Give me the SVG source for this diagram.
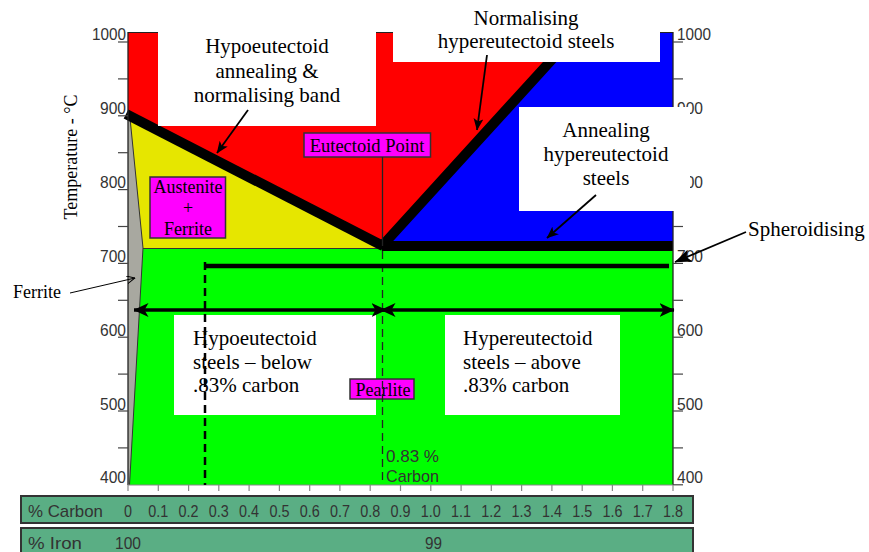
<svg xmlns="http://www.w3.org/2000/svg" width="869" height="552" viewBox="0 0 869 552">
<style>
.ax{font-family:"Liberation Sans",Arial,sans-serif;font-size:17px;fill:#333}
.serif{font-family:"Liberation Serif","Times New Roman",serif;fill:#000}
.big{font-size:21px}
.lab{font-size:18px}
.tick{stroke:#444;stroke-width:1.2}
.btick{stroke:#888;stroke-width:1.2}
.bar{fill:#5aae84;stroke:#333;stroke-width:2}
.mag{fill:#ff00ff;stroke:#333;stroke-width:1.5}
.ptr{stroke:#000;stroke-width:1.8;fill:none}
.dbl{stroke:#000;stroke-width:3.5;fill:none}
.wb{fill:#fff}
</style>
<defs>
<marker id="ah" viewBox="0 0 12 10" refX="11.5" refY="5" markerWidth="12" markerHeight="10" markerUnits="userSpaceOnUse" orient="auto"><path d="M0,0 L12,5 L0,10 L3,5 z" fill="#000"/></marker>
<marker id="ahBig" viewBox="0 0 17 13" refX="16.5" refY="6.5" markerWidth="17" markerHeight="13" markerUnits="userSpaceOnUse" orient="auto"><path d="M0,0 L17,6.5 L0,13 L4,6.5 z" fill="#000"/></marker>
<marker id="ahD" viewBox="0 0 15 14" refX="14.5" refY="7" markerWidth="15" markerHeight="14" markerUnits="userSpaceOnUse" orient="auto-start-reverse"><path d="M0,0 L15,7 L0,14 L4,7 z" fill="#000"/></marker>
<marker id="ahO" viewBox="0 0 9 8" refX="8.5" refY="4" markerWidth="9" markerHeight="8" markerUnits="userSpaceOnUse" orient="auto"><path d="M0,0 L8.5,4 L0,8" fill="none" stroke="#000" stroke-width="1"/></marker>
</defs>
<rect width="869" height="552" fill="#fff"/>

<g id="phase-regions">
<rect x="128" y="32" width="545" height="217" fill="#ff0000"/>
<polygon points="382,246 577,32 673,32 673,246" fill="#0000ff"/>
<polygon points="128,114 383,246 383,249 128,249" fill="#e6e600"/>
<rect x="128" y="248" width="545" height="237" fill="#00ff00"/>
<line x1="141" y1="248.5" x2="383" y2="248.5" stroke="#333" stroke-width="1"/>
<polygon points="128,118 130,118 143,248 129.5,485 128,485" fill="#a8a8a0"/>
<polyline points="130,118 143,248 129.5,485" fill="none" stroke="#333" stroke-width="1"/>
<line x1="128" y1="32.5" x2="673" y2="32.5" stroke="#222" stroke-width="1"/>
</g>

<g id="transformation-lines">
<line x1="126" y1="114" x2="383" y2="246" stroke="#000" stroke-width="10"/>
<polyline points="577,32 382,246 673,246" fill="none" stroke="#000" stroke-width="10" stroke-linejoin="bevel"/>
</g>

<g id="axes">
<line x1="128" y1="32" x2="128" y2="485" stroke="#222" stroke-width="1.3"/>
<line x1="673" y1="32" x2="673" y2="485" stroke="#222" stroke-width="1.3"/>
<line x1="128" y1="485" x2="673" y2="485" stroke="#888" stroke-width="1.2"/>
<g class="tick">
<line x1="118" y1="42" x2="128" y2="42"/><line x1="118" y1="78.9" x2="128" y2="78.9"/><line x1="118" y1="115.8" x2="128" y2="115.8"/><line x1="118" y1="152.7" x2="128" y2="152.7"/><line x1="118" y1="189.6" x2="128" y2="189.6"/><line x1="118" y1="226.5" x2="128" y2="226.5"/><line x1="118" y1="263.4" x2="128" y2="263.4"/><line x1="118" y1="300.3" x2="128" y2="300.3"/><line x1="118" y1="337.2" x2="128" y2="337.2"/><line x1="118" y1="374.1" x2="128" y2="374.1"/><line x1="118" y1="411" x2="128" y2="411"/><line x1="118" y1="447.9" x2="128" y2="447.9"/>
<line x1="673" y1="42" x2="683" y2="42"/><line x1="673" y1="78.9" x2="683" y2="78.9"/><line x1="673" y1="115.8" x2="683" y2="115.8"/><line x1="673" y1="152.7" x2="683" y2="152.7"/><line x1="673" y1="189.6" x2="683" y2="189.6"/><line x1="673" y1="226.5" x2="683" y2="226.5"/><line x1="673" y1="263.4" x2="683" y2="263.4"/><line x1="673" y1="300.3" x2="683" y2="300.3"/><line x1="673" y1="337.2" x2="683" y2="337.2"/><line x1="673" y1="374.1" x2="683" y2="374.1"/><line x1="673" y1="411" x2="683" y2="411"/><line x1="673" y1="447.9" x2="683" y2="447.9"/><line x1="673" y1="484.8" x2="683" y2="484.8"/>
</g>
<g class="btick">
<line x1="128" y1="485" x2="128" y2="491"/><line x1="158.3" y1="485" x2="158.3" y2="491"/><line x1="188.6" y1="485" x2="188.6" y2="491"/><line x1="218.8" y1="485" x2="218.8" y2="491"/><line x1="249.1" y1="485" x2="249.1" y2="491"/><line x1="279.4" y1="485" x2="279.4" y2="491"/><line x1="309.7" y1="485" x2="309.7" y2="491"/><line x1="339.9" y1="485" x2="339.9" y2="491"/><line x1="370.2" y1="485" x2="370.2" y2="491"/><line x1="400.5" y1="485" x2="400.5" y2="491"/><line x1="430.8" y1="485" x2="430.8" y2="491"/><line x1="461.1" y1="485" x2="461.1" y2="491"/><line x1="491.3" y1="485" x2="491.3" y2="491"/><line x1="521.6" y1="485" x2="521.6" y2="491"/><line x1="551.9" y1="485" x2="551.9" y2="491"/><line x1="582.2" y1="485" x2="582.2" y2="491"/><line x1="612.4" y1="485" x2="612.4" y2="491"/><line x1="642.7" y1="485" x2="642.7" y2="491"/><line x1="673" y1="485" x2="673" y2="491"/>
</g>
<g class="ax" lengthAdjust="spacingAndGlyphs">
<text x="92" y="40" textLength="34" lengthAdjust="spacingAndGlyphs">1000</text><text x="100" y="114" textLength="26" lengthAdjust="spacingAndGlyphs">900</text><text x="100" y="188" textLength="26" lengthAdjust="spacingAndGlyphs">800</text><text x="100" y="262" textLength="26" lengthAdjust="spacingAndGlyphs">700</text><text x="100" y="336" textLength="26" lengthAdjust="spacingAndGlyphs">600</text><text x="100" y="410" textLength="26" lengthAdjust="spacingAndGlyphs">500</text><text x="100" y="483" textLength="26" lengthAdjust="spacingAndGlyphs">400</text>
<text x="677" y="40" textLength="34" lengthAdjust="spacingAndGlyphs">1000</text><text x="677" y="114" textLength="26" lengthAdjust="spacingAndGlyphs">900</text><text x="677" y="188" textLength="26" lengthAdjust="spacingAndGlyphs">800</text><text x="677" y="262" textLength="26" lengthAdjust="spacingAndGlyphs">700</text><text x="677" y="336" textLength="26" lengthAdjust="spacingAndGlyphs">600</text><text x="677" y="410" textLength="26" lengthAdjust="spacingAndGlyphs">500</text><text x="677" y="483" textLength="26" lengthAdjust="spacingAndGlyphs">400</text>
</g>
<text class="serif lab" transform="translate(77,157) rotate(-90)" text-anchor="middle">Temperature - °C</text>
</g>

<g id="box-hypo-annealing">
<rect class="wb" x="158" y="20" width="218" height="106"/>
<text class="serif big" x="267" y="53" text-anchor="middle">Hypoeutectoid</text>
<text class="serif big" x="267" y="78" text-anchor="middle">annealing &amp;</text>
<text class="serif big" x="267" y="102" text-anchor="middle">normalising band</text>
</g>
<g id="box-normalising-hyper">
<rect class="wb" x="393" y="0" width="267" height="62"/>
<text class="serif big" x="526" y="25" text-anchor="middle">Normalising</text>
<text class="serif big" x="526" y="48" text-anchor="middle">hypereutectoid steels</text>
</g>
<g id="box-annealing-hyper">
<rect class="wb" x="519" y="107" width="171" height="104"/>
<text class="serif big" x="606" y="137" text-anchor="middle">Annealing</text>
<text class="serif big" x="606" y="161" text-anchor="middle">hypereutectoid</text>
<text class="serif big" x="606" y="185" text-anchor="middle">steels</text>
</g>
<g id="box-hypo-steels">
<rect class="wb" x="174" y="315" width="202" height="100"/>
<text class="serif big" x="193" y="345">Hypoeutectoid</text>
<text class="serif big" x="193" y="368.5">steels – below</text>
<text class="serif big" x="193" y="392">.83% carbon</text>
</g>
<g id="box-hyper-steels">
<rect class="wb" x="445" y="315" width="175" height="100"/>
<text class="serif big" x="463" y="345">Hypereutectoid</text>
<text class="serif big" x="463" y="368.5">steels – above</text>
<text class="serif big" x="463" y="392">.83% carbon</text>
</g>
<g id="label-austenite-ferrite">
<rect class="mag" x="150" y="177" width="75.5" height="61"/>
<text class="serif" font-size="18" x="188" y="193" text-anchor="middle">Austenite</text>
<text class="serif" font-size="18" x="188" y="214" text-anchor="middle">+</text>
<text class="serif" font-size="18" x="188" y="235" text-anchor="middle">Ferrite</text>
</g>
<g id="label-eutectoid-point">
<rect class="mag" x="304" y="133" width="126.5" height="24"/>
<text class="serif" font-size="18.5" x="367" y="152" text-anchor="middle">Eutectoid Point</text>
</g>
<g id="label-pearlite">
<rect class="mag" x="350" y="379" width="64" height="20"/>
<text class="serif" font-size="18" x="383" y="395.5" text-anchor="middle">Pearlite</text>
</g>
<g id="label-ferrite">
<text class="serif lab" x="13" y="298">Ferrite</text>
</g>
<g id="label-spheroidising">
<text class="serif big" x="748" y="236">Spheroidising</text>
</g>
<g id="label-083">
<text class="ax" font-size="18" x="386" y="462" textLength="53" lengthAdjust="spacingAndGlyphs">0.83 %</text>
<text class="ax" font-size="18" x="386" y="482" textLength="53" lengthAdjust="spacingAndGlyphs">Carbon</text>
</g>

<g id="connectors">
<line x1="382.5" y1="157" x2="382.5" y2="246" stroke="#222" stroke-width="1.3"/>
<line x1="382.5" y1="251" x2="382.5" y2="485" stroke="#222" stroke-width="1.3" stroke-dasharray="8,5"/>
<line x1="205" y1="262" x2="205" y2="485" stroke="#000" stroke-width="2.5" stroke-dasharray="8,5"/>
<line x1="204" y1="266" x2="669" y2="266" stroke="#000" stroke-width="4.5"/>
<line class="dbl" x1="134" y1="310" x2="386" y2="310" marker-start="url(#ahD)" marker-end="url(#ahD)"/>
<line class="dbl" x1="381" y1="310" x2="674" y2="310" marker-start="url(#ahD)" marker-end="url(#ahD)"/>
<line class="ptr" x1="248" y1="110" x2="217" y2="153" marker-end="url(#ah)"/>
<line class="ptr" x1="487" y1="55" x2="477" y2="130" marker-end="url(#ah)"/>
<line class="ptr" x1="596" y1="195" x2="547" y2="238" marker-end="url(#ah)"/>
<line class="ptr" x1="746" y1="232" x2="675" y2="262" stroke-width="2" marker-end="url(#ahBig)"/>
<line x1="70" y1="293" x2="135" y2="278" stroke="#000" stroke-width="1" marker-end="url(#ahO)"/>
</g>

<g id="scale-bars">
<rect class="bar" x="21" y="496" width="672" height="27"/>
<rect class="bar" x="21" y="528" width="672" height="30"/>
<g class="ax" font-size="18">
<text x="28" y="517" textLength="75" lengthAdjust="spacingAndGlyphs">% Carbon</text>
<text x="28" y="549" textLength="54" lengthAdjust="spacingAndGlyphs">% Iron</text>
<text x="115" y="549" textLength="26" lengthAdjust="spacingAndGlyphs">100</text>
<text x="425" y="549" textLength="17" lengthAdjust="spacingAndGlyphs">99</text>
</g>
<g class="ax" font-size="18">
<text x="124" y="517" textLength="8" lengthAdjust="spacingAndGlyphs">0</text><text x="148.3" y="517" textLength="20" lengthAdjust="spacingAndGlyphs">0.1</text><text x="178.6" y="517" textLength="20" lengthAdjust="spacingAndGlyphs">0.2</text><text x="208.8" y="517" textLength="20" lengthAdjust="spacingAndGlyphs">0.3</text><text x="239.1" y="517" textLength="20" lengthAdjust="spacingAndGlyphs">0.4</text><text x="269.4" y="517" textLength="20" lengthAdjust="spacingAndGlyphs">0.5</text><text x="299.7" y="517" textLength="20" lengthAdjust="spacingAndGlyphs">0.6</text><text x="329.9" y="517" textLength="20" lengthAdjust="spacingAndGlyphs">0.7</text><text x="360.2" y="517" textLength="20" lengthAdjust="spacingAndGlyphs">0.8</text><text x="390.5" y="517" textLength="20" lengthAdjust="spacingAndGlyphs">0.9</text><text x="420.8" y="517" textLength="20" lengthAdjust="spacingAndGlyphs">1.0</text><text x="451.1" y="517" textLength="20" lengthAdjust="spacingAndGlyphs">1.1</text><text x="481.3" y="517" textLength="20" lengthAdjust="spacingAndGlyphs">1.2</text><text x="511.6" y="517" textLength="20" lengthAdjust="spacingAndGlyphs">1.3</text><text x="541.9" y="517" textLength="20" lengthAdjust="spacingAndGlyphs">1.4</text><text x="572.2" y="517" textLength="20" lengthAdjust="spacingAndGlyphs">1.5</text><text x="602.4" y="517" textLength="20" lengthAdjust="spacingAndGlyphs">1.6</text><text x="632.7" y="517" textLength="20" lengthAdjust="spacingAndGlyphs">1.7</text><text x="663" y="517" textLength="20" lengthAdjust="spacingAndGlyphs">1.8</text>
</g>
</g>
</svg>
